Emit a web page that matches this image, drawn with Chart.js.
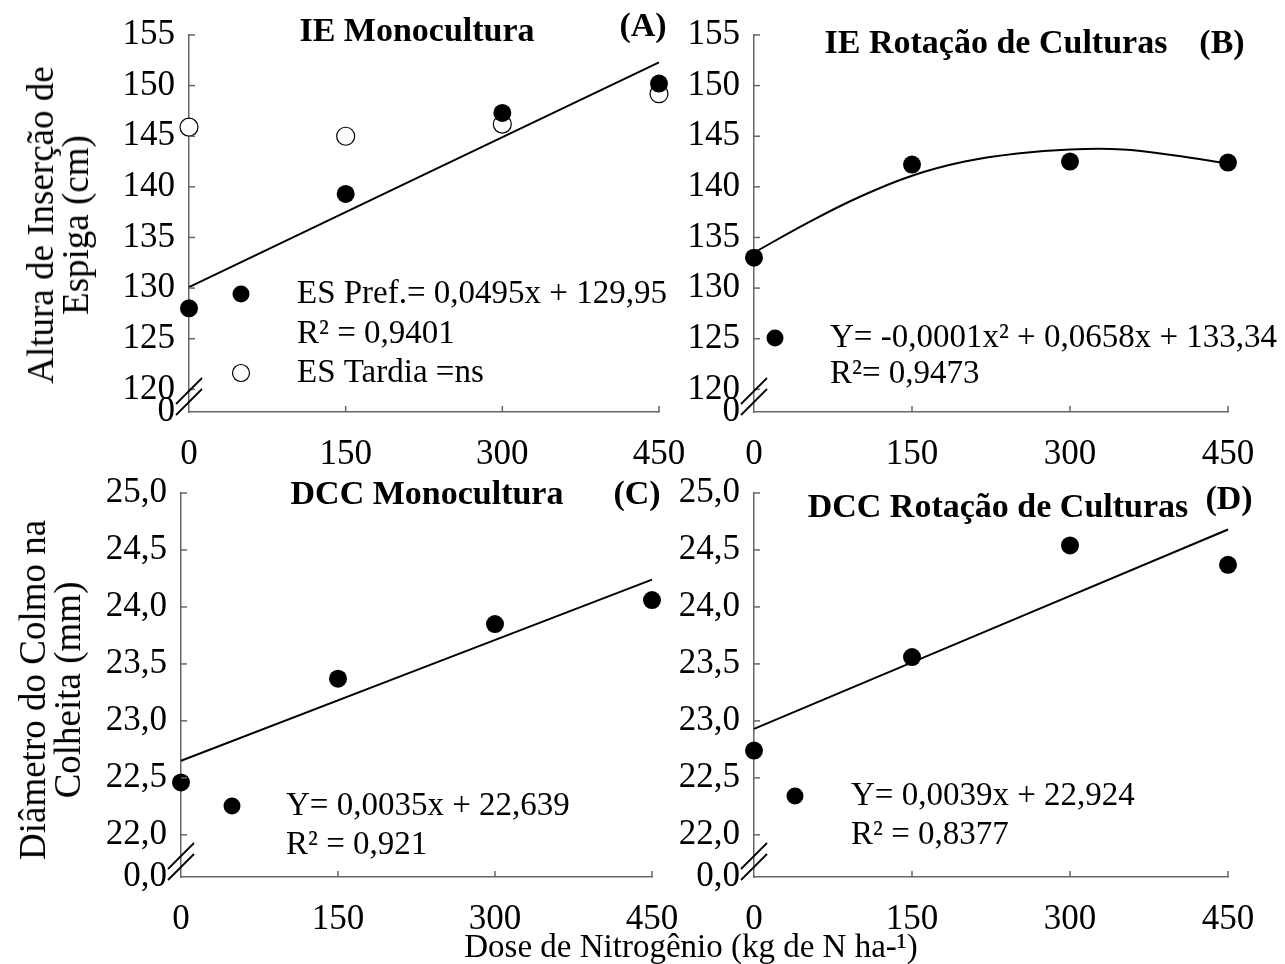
<!DOCTYPE html>
<html>
<head>
<meta charset="utf-8">
<script src="https://cdn.jsdelivr.net/npm/chart.js@4.4.1/dist/chart.umd.min.js"></script>
<style>
  body { margin: 0; background: #fff; }
  #wrap { position: relative; width: 1285px; height: 964px; overflow: hidden; font-family: 'Liberation Serif', 'Times New Roman', serif; }
  #wrap canvas { position: absolute; left: 0; top: 0; }
  .ytitle { position: absolute; transform: translate(-50%, -50%) rotate(-90deg); white-space: nowrap; text-align: center; font-size: 37px; line-height: 35px; color: #000; }
  .xtitle { position: absolute; transform: translate(-50%, -50%); white-space: nowrap; font-size: 33px; color: #000; }
</style>
</head>
<body>
<div id="wrap">
  <canvas id="chartA" width="1285" height="964"></canvas>
  <canvas id="chartB" width="1285" height="964"></canvas>
  <canvas id="chartC" width="1285" height="964"></canvas>
  <canvas id="chartD" width="1285" height="964"></canvas>
  <div class="ytitle" style="left:58px; top:225px;">Altura de Inserção de<br>Espiga (cm)</div>
  <div class="ytitle" style="left:50px; top:690px;">Diâmetro do Colmo na<br>Colheita (mm)</div>
  <div class="xtitle" style="left:691px; top:946px;">Dose de Nitrogênio (kg de N ha-¹)</div>
</div>
<script>
// doses de N (kg/ha)
const doses = [0, 150, 300, 450];
const xTicks = [0, 150, 300, 450];

// IE (altura de insercao de espiga, cm)
const ieMonoPref = [128.0, 139.3, 147.3, 150.2];
const ieMonoTardia = [145.9, 145.0, 146.2, 149.2];
const ieMonoFitX = [0, 450];
const ieMonoFitY = [130.1, 152.3];
const ieRotacao = [133.0, 142.2, 142.5, 142.4];
const ieRotFitX = [0, 50, 100, 150, 200, 250, 300, 350, 400, 450];
const ieRotFitY = [133.5, 136.4, 139.0, 141.1, 142.5, 143.3, 143.7, 143.7, 143.1, 142.3];
const yTicksIE = [120, 125, 130, 135, 140, 145, 150, 155];
const breakLabelIE = '0';

// DCC (diametro do colmo, mm)
const dccMono = [22.46, 23.37, 23.85, 24.06];
const dccMonoFitX = [0, 450];
const dccMonoFitY = [22.65, 24.24];
const dccRotacao = [22.74, 23.56, 24.54, 24.37];
const dccRotFitX = [0, 450];
const dccRotFitY = [22.93, 24.68];
const yTicksDCC = [22.0, 22.5, 23.0, 23.5, 24.0, 24.5, 25.0];
const breakLabelDCC = '0,0';

const FONT = "'Liberation Serif', 'Times New Roman', serif";
const W = 1285, H = 964;
const YW = 80, XH = 60;

function pts(xs, ys) {
    return xs.map((x, i) => ({ x: x, y: ys[i] }));
}

function fmtDCC(v) {
    return v.toFixed(1).replace('.', ',');
}

// ticks para dentro + marca de quebra de eixo + titulos e equacoes
const decorPlugin = {
    id: 'decor',
    afterDatasetsDraw(chart, args, opts) {
        const ctx = chart.ctx;
        const xs = chart.scales.x, ys = chart.scales.y;
        const a = chart.chartArea;
        ctx.save();
        ctx.strokeStyle = '#666';
        ctx.lineWidth = 1.5;
        xTicks.forEach(v => {
            if (v === 0) return;
            const px = xs.getPixelForValue(v);
            ctx.beginPath(); ctx.moveTo(px, a.bottom); ctx.lineTo(px, a.bottom - 6); ctx.stroke();
        });
        opts.yTicks.forEach(v => {
            const py = ys.getPixelForValue(v);
            ctx.beginPath(); ctx.moveTo(a.left, py); ctx.lineTo(a.left + 6, py); ctx.stroke();
        });
        // quebra do eixo y
        ctx.strokeStyle = '#000';
        ctx.lineWidth = 1.8;
        [21, 10].forEach(off => {
            const cy = a.bottom - off;
            ctx.beginPath(); ctx.moveTo(a.left - 13, cy + 13); ctx.lineTo(a.left + 13, cy - 13); ctx.stroke();
        });
        // titulo
        ctx.fillStyle = '#000';
        ctx.textBaseline = 'middle';
        ctx.textAlign = 'center';
        ctx.font = 'bold 34px ' + FONT;
        ctx.fillText(opts.title[0], opts.title[1], opts.title[2]);
        ctx.fillText(opts.tag[0], opts.tag[1], opts.tag[2]);
        // legenda
        ctx.textAlign = 'left';
        ctx.font = '33px ' + FONT;
        opts.legend.forEach(it => {
            if (it.marker) {
                ctx.beginPath();
                ctx.arc(it.mx, it.y, 8.5, 0, Math.PI * 2);
                if (it.marker === 'open') {
                    ctx.fillStyle = '#fff'; ctx.fill();
                    ctx.lineWidth = 1.2; ctx.strokeStyle = '#000'; ctx.stroke();
                } else {
                    ctx.fillStyle = '#000'; ctx.fill();
                }
                ctx.fillStyle = '#000';
            }
            ctx.fillText(it.text, it.tx, it.y);
        });
        ctx.restore();
    }
};

function makePanel(id, box, yMin, yMax, yTicks, breakLabel, fmt, datasets, decor) {
    const ctx = document.getElementById(id).getContext('2d');
    return new Chart(ctx, {
        type: 'scatter',
        data: { datasets: datasets },
        options: {
            responsive: false,
            animation: false,
            devicePixelRatio: 1,
            events: [],
            layout: {
                padding: { left: box.left - YW, top: box.top, right: W - box.right, bottom: H - box.bottom - XH }
            },
            plugins: { legend: { display: false }, tooltip: { enabled: false }, decor: decor },
            scales: {
                x: {
                    type: 'linear', min: 0, max: 450,
                    afterFit: s => { s.height = XH; },
                    afterBuildTicks: s => { s.ticks = xTicks.map(v => ({ value: v })); },
                    grid: { display: true, drawOnChartArea: false, drawTicks: false },
                    border: { display: true, color: '#666', width: 1.5 },
                    ticks: { autoSkip: false, maxRotation: 0, padding: 22, color: '#000', font: { family: FONT, size: 35 } }
                },
                y: {
                    type: 'linear', min: yMin, max: yMax,
                    afterFit: s => { s.width = YW; },
                    afterBuildTicks: s => { s.ticks = [yMin].concat(yTicks).map(v => ({ value: v })); },
                    grid: { display: true, drawOnChartArea: false, drawTicks: false },
                    border: { display: true, color: '#666', width: 1.5 },
                    ticks: {
                        autoSkip: false, padding: 14, color: '#000', font: { family: FONT, size: 35 },
                        callback: v => (v === yMin ? breakLabel : fmt(v))
                    }
                }
            }
        },
        plugins: [decorPlugin]
    });
}

function dots(ys, open) {
    return {
        data: pts(doses, ys), showLine: false, clip: false,
        pointRadius: 9, pointHoverRadius: 9,
        pointBackgroundColor: open ? '#fff' : '#000', pointBorderColor: '#000',
        pointBorderWidth: open ? 1.2 : 0
    };
}

function fit(xs, ys) {
    return {
        data: pts(xs, ys), showLine: true, clip: false, pointRadius: 0,
        borderColor: '#000', borderWidth: 2, tension: 0.4
    };
}

const fmtIE = v => String(v);

makePanel('chartA', { left: 189, right: 659, top: 30, bottom: 412 }, 117.76, 155, yTicksIE, breakLabelIE, fmtIE,
    [dots(ieMonoPref, false), dots(ieMonoTardia, true), fit(ieMonoFitX, ieMonoFitY)],
    {
        yTicks: yTicksIE,
        title: ['IE Monocultura', 417, 32], tag: ['(A)', 643, 27],
        legend: [
            { marker: 'filled', mx: 241, tx: 297, y: 294, text: 'ES Pref.= 0,0495x + 129,95' },
            { tx: 297, y: 334, text: 'R² = 0,9401' },
            { marker: 'open', mx: 241, tx: 297, y: 373, text: 'ES Tardia =ns' }
        ]
    });

makePanel('chartB', { left: 754, right: 1228, top: 30, bottom: 412 }, 117.76, 155, yTicksIE, breakLabelIE, fmtIE,
    [dots(ieRotacao, false), fit(ieRotFitX, ieRotFitY)],
    {
        yTicks: yTicksIE,
        title: ['IE Rotação de Culturas', 996, 44], tag: ['(B)', 1222, 44],
        legend: [
            { marker: 'filled', mx: 775, tx: 830, y: 338, text: 'Y= -0,0001x² + 0,0658x + 133,34' },
            { tx: 830, y: 374, text: 'R²= 0,9473' }
        ]
    });

makePanel('chartC', { left: 181, right: 652, top: 493, bottom: 877 }, 21.63, 25.0, yTicksDCC, breakLabelDCC, fmtDCC,
    [dots(dccMono, false), fit(dccMonoFitX, dccMonoFitY)],
    {
        yTicks: yTicksDCC,
        title: ['DCC Monocultura', 427, 495], tag: ['(C)', 637, 495],
        legend: [
            { marker: 'filled', mx: 232, tx: 286, y: 806, text: 'Y= 0,0035x + 22,639' },
            { tx: 286, y: 845, text: 'R² = 0,921' }
        ]
    });

makePanel('chartD', { left: 754, right: 1228, top: 493, bottom: 877 }, 21.63, 25.0, yTicksDCC, breakLabelDCC, fmtDCC,
    [dots(dccRotacao, false), fit(dccRotFitX, dccRotFitY)],
    {
        yTicks: yTicksDCC,
        title: ['DCC Rotação de Culturas', 998, 508], tag: ['(D)', 1229, 500],
        legend: [
            { marker: 'filled', mx: 795, tx: 851, y: 796, text: 'Y= 0,0039x + 22,924' },
            { tx: 851, y: 835, text: 'R² = 0,8377' }
        ]
    });
</script>
</body>
</html>
